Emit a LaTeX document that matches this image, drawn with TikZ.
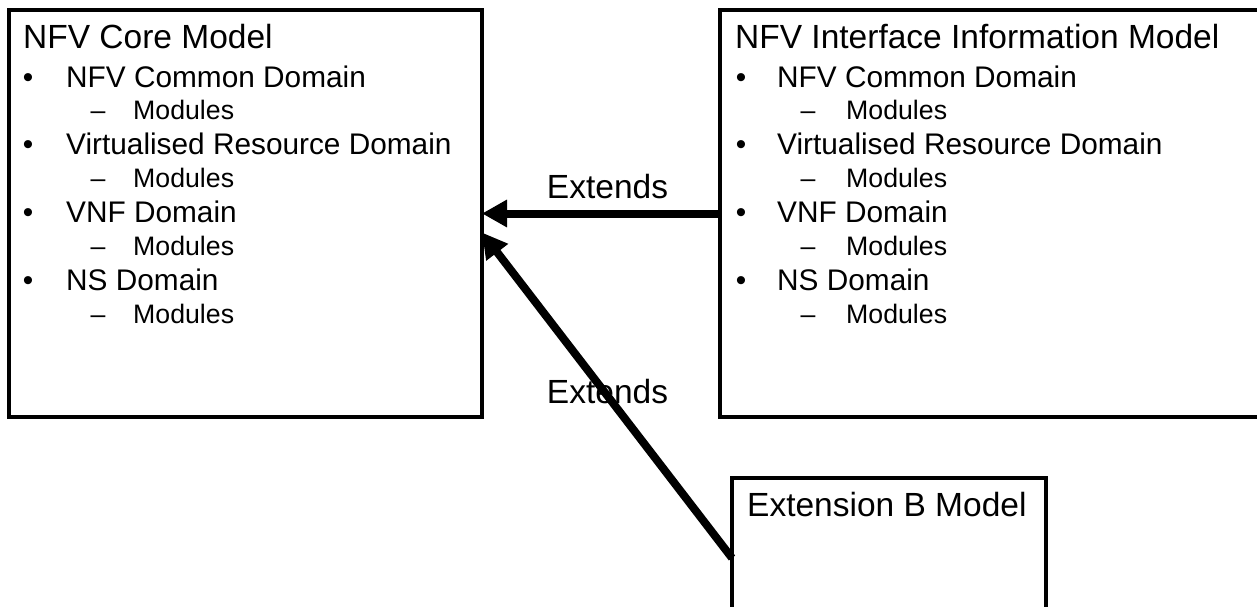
\documentclass[tikz,border=0pt]{standalone}
\usepackage{fontspec}
\setmainfont{Liberation Sans}
\usetikzlibrary{arrows.meta}
\begin{document}
\begin{tikzpicture}[x=1pt,y=1pt,
  box/.style={draw=black, line width=4pt, inner sep=0pt, outer sep=0pt, anchor=north west},
  ttl/.style={anchor=base west, inner sep=0pt, font=\fontsize{33.5}{40}\selectfont},
  lone/.style={anchor=base west, inner sep=0pt, font=\fontsize{29.8}{36}\selectfont},
  ltwo/.style={anchor=base west, inner sep=0pt, font=\fontsize{26.7}{32}\selectfont},
  bul/.style={anchor=base, inner sep=0pt, font=\fontsize{29.8}{36}\selectfont},
  dsh/.style={anchor=base, inner sep=0pt, font=\fontsize{26.7}{32}\selectfont},
  lbl/.style={anchor=base, inner sep=0pt, font=\fontsize{33.5}{40}\selectfont},
  ext/.style={line width=8pt, -{Triangle[length=25pt,width=26pt]}}
]
\clip (0,0) rectangle (1257,-606);
\useasboundingbox (0,0) rectangle (1257,-606);

% boxes
\node[box, minimum width=473pt, minimum height=407pt] (core) at (9,-10) {};
\node[box, minimum width=560pt, minimum height=407pt] (ifm) at (720,-10) {};
\node[box, minimum width=314pt, minimum height=160pt] (extb) at (732,-478) {};

% left box text
\node[ttl] (ct) at (23,-48) {NFV Core Model};
\node[bul] (cb1) at (28,-87) {•};
\node[lone] (c1) at (66,-87) {NFV Common Domain};
\node[dsh] (cd1) at (98,-119) {–};
\node[ltwo] (cm1) at (133,-119) {Modules};
\node[bul] (cb2) at (28,-154) {•};
\node[lone] (c2) at (66,-154) {Virtualised Resource Domain};
\node[dsh] (cd2) at (98,-187) {–};
\node[ltwo] (cm2) at (133,-187) {Modules};
\node[bul] (cb3) at (28,-222) {•};
\node[lone] (c3) at (66,-222) {VNF Domain};
\node[dsh] (cd3) at (98,-255) {–};
\node[ltwo] (cm3) at (133,-255) {Modules};
\node[bul] (cb4) at (28,-290) {•};
\node[lone] (c4) at (66,-290) {NS Domain};
\node[dsh] (cd4) at (98,-323) {–};
\node[ltwo] (cm4) at (133,-323) {Modules};

% right box text
\node[ttl] (it) at (735,-48) {NFV Interface Information Model};
\node[bul] (ib1) at (741,-87) {•};
\node[lone] (i1) at (777,-87) {NFV Common Domain};
\node[dsh] (id1) at (808,-119) {–};
\node[ltwo] (im1) at (846,-119) {Modules};
\node[bul] (ib2) at (741,-154) {•};
\node[lone] (i2) at (777,-154) {Virtualised Resource Domain};
\node[dsh] (id2) at (808,-187) {–};
\node[ltwo] (im2) at (846,-187) {Modules};
\node[bul] (ib3) at (741,-222) {•};
\node[lone] (i3) at (777,-222) {VNF Domain};
\node[dsh] (id3) at (808,-255) {–};
\node[ltwo] (im3) at (846,-255) {Modules};
\node[bul] (ib4) at (741,-290) {•};
\node[lone] (i4) at (777,-290) {NS Domain};
\node[dsh] (id4) at (808,-323) {–};
\node[ltwo] (im4) at (846,-323) {Modules};

% extension box text
\node[ttl] (et) at (747,-516) {Extension B Model};

% connectors
\draw[ext] (ifm.west) -- (core.east);
\draw[ext] (extb.west) -- ([yshift=-19pt]core.east);

% labels
\node[lbl] (l1) at (607.5,-198) {Extends};
\node[lbl] (l2) at (607.5,-403) {Extends};
\end{tikzpicture}
\end{document}
